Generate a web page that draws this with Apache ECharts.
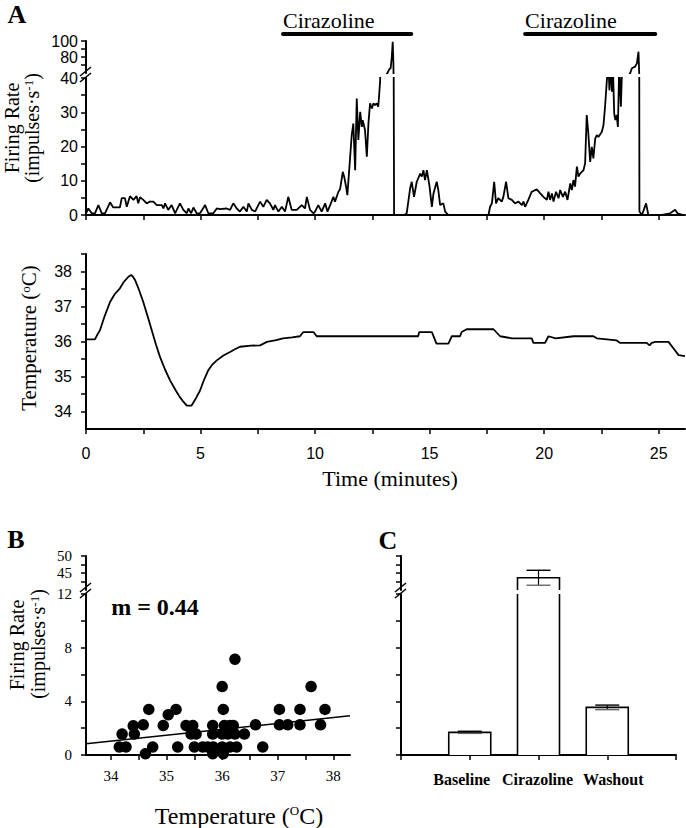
<!DOCTYPE html>
<html><head><meta charset="utf-8">
<script src="https://cdn.jsdelivr.net/npm/echarts@6/dist/echarts.min.js"></script>
<style>html,body{margin:0;padding:0;background:#fff;}#c{width:686px;height:828px;}</style>
</head><body><div id="c"></div>
<script>
// ---------- Panel A: firing rate trace (time in minutes, impulses/s) ----------
const fireTime = [
0, 0.10, 0.25, 0.39, 0.54, 0.69, 0.83, 1.05, 1.19, 1.48,
1.56, 1.70, 1.78, 1.92, 2.07, 2.21, 2.28, 2.36, 2.50, 2.65,
2.79, 2.94, 3.09, 3.31, 3.38, 3.45, 3.59, 3.74, 3.89, 4.10,
4.25, 4.40, 4.47, 4.59, 4.69, 4.83, 4.98, 5.20, 5.34, 5.56,
5.71, 5.85, 6.14, 6.29, 6.43, 6.58, 6.72, 6.87, 7.02, 7.09,
7.24, 7.38, 7.60, 7.74, 7.89, 8.03, 8.18, 8.25, 8.40, 8.55,
8.69, 8.83, 8.98, 9.20, 9.42, 9.56, 9.64, 9.78, 9.93, 10.00,
10.14, 10.29, 10.44, 10.54, 10.66, 10.80, 10.87, 11.02, 11.09, 11.21,
11.27, 11.35, 11.41, 11.50, 11.60, 11.67, 11.75, 11.82, 11.89, 11.97,
12.04, 12.08, 12.18, 12.26, 12.33, 12.40, 12.48, 12.55, 12.62, 12.69,
12.76, 12.84, 12.87, 13.16, 13.24, 13.30, 13.35, 13.39, 13.42, 13.45,
13.90, 14.00, 14.15, 14.22, 14.32, 14.44, 14.59, 14.66, 14.73, 14.80,
14.88, 14.99, 15.10, 15.17, 15.31, 15.38, 15.46, 15.60, 15.68, 15.82,
17.57, 17.64, 17.72, 17.82, 17.90, 18.00, 18.15, 18.22, 18.34, 18.44,
18.59, 18.73, 18.88, 19.03, 19.10, 19.17, 19.31, 19.46, 19.68, 19.83,
19.97, 20.12, 20.19, 20.26, 20.34, 20.41, 20.52, 20.63, 20.70, 20.82,
20.92, 21.02, 21.14, 21.21, 21.28, 21.35, 21.43, 21.50, 21.57, 21.72,
21.79, 21.86, 21.93, 22.01, 22.08, 22.15, 22.23, 22.30, 22.37, 22.52,
22.59, 22.66, 22.74, 22.81, 22.85, 22.91, 22.96, 23.00, 23.06, 23.11,
23.17, 23.22, 23.28, 23.35, 23.41, 23.46, 23.60, 23.76, 23.83, 23.97,
24.05, 24.12, 24.15, 24.16, 24.27, 24.45, 24.55, 25.14, 25.50, 25.72,
25.82, 26.08];
const fireRate = [
0.5, 1.9, 0.5, 0.5, 2.9, 0.5, 0.5, 3.7, 2.2, 2.2,
4.9, 4.9, 2.4, 5.5, 4.4, 5.5, 3.4, 5.2, 4.4, 3.4,
3.9, 3.9, 2.9, 2.9, 1.9, 3.4, 1.5, 2.9, 0.5, 3.4,
1.5, 0.5, 1.9, 0.5, 2.2, 0.5, 0.5, 2.9, 0.5, 0.5,
1.9, 1.7, 1.9, 1.5, 3.4, 1.9, 1.0, 2.4, 1.0, 3.4,
1.5, 1.0, 3.9, 2.4, 4.4, 3.4, 1.5, 2.9, 1.0, 2.4,
1.0, 5.3, 1.5, 1.5, 2.9, 1.9, 5.3, 1.5, 0.5, 1.0,
2.9, 1.0, 3.4, 1.0, 2.9, 5.3, 3.9, 6.8, 7.5, 12.6,
11.2, 8.4, 5.8, 14.0, 23.3, 26.7, 13.1, 34.0, 21.9, 30.1,
25.7, 27.7, 24.8, 17.0, 26.7, 32.6, 31.1, 32.6, 32.1, 32.6,
31.6, 39.0, 48, 60, 64.6, 66, 80, 99, 72, 0,
0, 0.5, 7.8, 9.7, 5.3, 9.7, 12.1, 11.2, 13.1, 10.2,
13.1, 8.7, 2.4, 6.3, 9.7, 7.3, 2.9, 3.4, 1.0, 0,
0, 2.4, 3.4, 9.7, 3.4, 4.9, 3.9, 5.3, 9.7, 4.9,
4.4, 3.4, 3.9, 2.9, 3.9, 2.4, 4.4, 6.8, 7.5, 6.3,
5.3, 4.4, 6.8, 4.4, 6.3, 3.9, 6.8, 4.9, 7.3, 5.3,
6.8, 4.4, 9.2, 7.3, 10.2, 8.3, 14.1, 11.2, 12.1, 13.1,
15.1, 29.2, 23.8, 15.5, 19.9, 16.5, 22.3, 23.3, 22.8, 24.3,
26.2, 31.6, 39.4, 44, 36.4, 44, 36, 44, 29.6, 27.7,
29.2, 25.7, 44, 31.6, 44, 48, 52, 60, 66, 68,
72, 86.6, 60, 1, 0, 3.4, 0, 0, 0.5, 1.5,
0.5, 0];

// drug application periods (minutes)
const drugName = 'Cirazoline';
const drugPeriods = [[8.6, 14.2], [19.17, 24.85]];

// ---------- Panel A: temperature trace ----------
const tempTime = [0, 0.39, 0.5, 0.61, 0.8, 1.05, 1.25, 1.48, 1.65, 1.85,
1.97, 2.05, 2.14, 2.3, 2.5, 2.7, 2.87, 3.05, 3.23, 3.45,
3.67, 3.9, 4.1, 4.25, 4.4, 4.61, 4.8, 4.98, 5.15, 5.34,
5.5, 5.71, 6.0, 6.29, 6.5, 6.72, 7.2, 7.6, 7.9, 8.3,
8.6, 9.0, 9.34, 9.49, 9.93, 10.07, 14.5, 14.55, 15.1, 15.3,
15.82, 15.97, 16.33, 16.4, 16.62, 17.79, 18.08, 18.59, 19.46, 19.53,
20.04, 20.19, 20.5, 21.28, 22.15, 22.3, 23.17, 23.32, 24.48, 24.6,
24.7, 24.85, 25.43, 25.65, 25.87, 26.15];
const tempValue = [36.06, 36.06, 36.2, 36.32, 36.7, 37.13, 37.35, 37.52, 37.7, 37.85,
37.9, 37.85, 37.76, 37.5, 37.13, 36.7, 36.32, 35.92, 35.56, 35.2,
34.89, 34.62, 34.41, 34.28, 34.17, 34.17, 34.38, 34.6, 34.9, 35.18,
35.33, 35.46, 35.6, 35.7, 35.78, 35.85, 35.88, 35.89, 35.99, 36.04,
36.09, 36.12, 36.15, 36.27, 36.27, 36.15, 36.15, 36.27, 36.27, 35.94,
35.94, 36.15, 36.15, 36.27, 36.35, 36.35, 36.15, 36.09, 36.09, 35.96,
35.96, 36.15, 36.09, 36.15, 36.15, 36.09, 36.03, 35.96, 35.96, 35.89,
35.96, 35.99, 35.99, 35.8, 35.61, 35.58];

// ---------- Panel B: firing rate vs temperature ----------
const scatterTemp = [34.2, 34.15, 34.27, 34.4, 34.42, 34.58, 34.62, 34.68, 34.75, 34.94,
35.03, 35.17, 35.2, 35.35, 35.47, 35.44, 35.53, 35.5, 35.65, 35.74,
35.83, 35.83, 35.84, 35.83, 36.0, 36.02, 36.04, 36.0, 36.0, 36.02,
36.14, 36.1, 36.14, 36.23, 36.23, 36.26, 36.4, 36.6, 36.73, 37.03,
37.03, 37.18, 37.4, 37.4, 37.6, 37.77, 37.85, 36.2];
const scatterRate = [1.56, 0.6, 0.6, 2.18, 1.56, 2.25, 0.1, 3.4, 0.6, 2.2,
3.0, 3.4, 0.6, 2.2, 2.2, 1.56, 1.56, 0.6, 0.6, 0.6,
2.2, 1.56, 0.6, 0.1, 5.1, 3.4, 2.2, 1.56, 0.6, 0.1,
2.2, 1.56, 0.6, 7.14, 1.56, 0.6, 1.56, 2.25, 0.6, 3.4,
2.25, 2.25, 3.4, 2.25, 5.1, 2.25, 3.4, 2.2];
const fitTemp = [33.55, 38.3];
const fitRate = [0.84, 2.92];
const slopeText = 'm = 0.44';

// ---------- Panel C: mean firing rate ----------
const conditions = ['Baseline', 'Cirazoline', 'Washout'];
const condMean = [1.69, 43.6, 3.55];
const condSem = [0.08, 2.2, 0.17];

// ---------- axis ticks ----------
const timeTicks = [0, 2.5, 5, 7.5, 10, 12.5, 15, 17.5, 20, 22.5, 25];
const timeLabels = [0, 5, 10, 15, 20, 25];
const frUpperTicks = [70, 80, 90, 100], frUpperLabels = [80, 100];
const frLowerTicks = [0, 5, 10, 15, 20, 25, 30, 35, 40], frLowerLabels = [0, 10, 20, 30, 40];
const tempTicks = [34, 34.5, 35, 35.5, 36, 36.5, 37, 37.5, 38, 38.5], tempLabels = [34, 35, 36, 37, 38];
const bTempTicks = [34, 34.5, 35, 35.5, 36, 36.5, 37, 37.5, 38], bTempLabels = [34, 35, 36, 37, 38];
const bcUpperTicks = [42.5, 45, 47.5, 50], bUpperLabels = [45, 50];
const bcLowerTicks = [0, 2, 4, 6, 8, 10, 12], bLowerLabels = [0, 4, 8, 12];

const SERIF = '"Liberation Serif", "Times New Roman", serif';
const SANS = '"Liberation Sans", Arial, sans-serif';
const condLabelShift = [-8, -1, 6]; // horizontal nudge of the category labels (px)

const chart = echarts.init(document.getElementById('c'), null, {renderer: 'svg'});

const zip = (a, b) => a.slice(0, Math.min(a.length, b.length)).map((v, i) => [v, b[i]]);
const fireData = zip(fireTime, fireRate);
const tempData = zip(tempTime, tempValue);
const scatterData = zip(scatterTemp, scatterRate);
const fitData = zip(fitTemp, fitRate);
const barData = conditions.map((c, i) => [i + 1, condMean[i], condSem[i]]);
const condLabelData = conditions.map((c, i) => [i + 1, 0]);

const axLine = {show: true, onZero: false, lineStyle: {color: '#000', width: 2}};
function tick(vals) { return {show: true, inside: false, length: 5, customValues: vals, lineStyle: {color: '#000', width: 1.5}}; }
function lab(vals, font, size, margin, extra) {
  return Object.assign({show: true, customValues: vals, color: '#000', fontFamily: font, fontSize: size, margin: margin, hideOverlap: false}, extra || {});
}
const noLab = {show: false};

function valAxis(gi, min, max, o) {
  return Object.assign({type: 'value', gridIndex: gi, min: min, max: max, splitLine: {show: false}, axisLine: axLine}, o);
}

const tMin = 0, tMax = 26.15;
const bMin = 33.55, bMax = 38.3;

function renderDrug(params, api) {
  const a = api.coord([api.value(0), 100]);
  const b = api.coord([api.value(1), 100]);
  return {type: 'group', children: [
    {type: 'line', shape: {x1: a[0], y1: a[1] - 7, x2: b[0], y2: b[1] - 7}, style: {stroke: '#000', lineWidth: 4, lineCap: 'round'}},
    {type: 'text', x: a[0], y: a[1] - 21, style: {text: drugName, fill: '#000', font: '22px ' + SERIF, align: 'left', verticalAlign: 'middle', textAlign: 'left', textVerticalAlign: 'middle'}}
  ]};
}

function renderBars(params, api) {
  const x = api.value(0), m = api.value(1), s = api.value(2);
  const base = api.coord([x, 0]);
  const top = api.coord([x, m]);
  const hi = api.coord([x, m + s]);
  const lo = api.coord([x, m - s]);
  const hw = 21, cw = 12;
  return {type: 'group', children: [
    {type: 'rect', shape: {x: base[0] - hw, y: top[1], width: 2 * hw, height: base[1] - top[1]}, style: {fill: '#fff'}},
    {type: 'polyline', shape: {points: [[base[0] - hw, base[1]], [base[0] - hw, top[1]], [base[0] + hw, top[1]], [base[0] + hw, base[1]]]}, style: {stroke: '#000', lineWidth: 1.6, fill: null}},
    {type: 'line', shape: {x1: top[0], y1: hi[1], x2: top[0], y2: lo[1]}, style: {stroke: '#000', lineWidth: 1.2}},
    {type: 'line', shape: {x1: top[0] - cw, y1: hi[1], x2: top[0] + cw, y2: hi[1]}, style: {stroke: '#000', lineWidth: 1.4}},
    {type: 'line', shape: {x1: top[0] - cw, y1: lo[1], x2: top[0] + cw, y2: lo[1]}, style: {stroke: '#666', lineWidth: 1.4}}
  ]};
}

function renderCondLabel(params, api) {
  const p = api.coord([api.value(0), 0]);
  const i = params.dataIndex;
  return {type: 'text', x: p[0] + (condLabelShift[i] || 0), y: p[1] + 24,
    style: {text: conditions[i], fill: '#000', font: 'bold 16px ' + SERIF, align: 'center', verticalAlign: 'middle', textAlign: 'center', textVerticalAlign: 'middle'}};
}

function breakMark(x, y) {
  return {type: 'group', x: x, y: y, z: 100, children: [
    {type: 'polygon', shape: {points: [[-6, 3], [5, -6], [5, 0], [-6, 9]]}, style: {fill: '#fff'}},
    {type: 'line', shape: {x1: -6, y1: 3, x2: 5, y2: -6}, style: {stroke: '#000', lineWidth: 1.5}},
    {type: 'line', shape: {x1: -6, y1: 9, x2: 5, y2: 0}, style: {stroke: '#000', lineWidth: 1.5}}
  ]};
}

function vText(x, y, text, size, rich) {
  return {type: 'text', x: x, y: y, rotation: Math.PI / 2, z: 100,
    style: {text: text, fill: '#000', font: size + 'px ' + SERIF, fontFamily: SERIF, fontSize: size, align: 'center', verticalAlign: 'middle', textAlign: 'center', textVerticalAlign: 'middle', rich: rich || {}}};
}
function hText(x, y, text, size, weight, rich) {
  return {type: 'text', x: x, y: y, z: 100,
    style: {text: text, fill: '#000', font: (weight || 'normal') + ' ' + size + 'px ' + SERIF, fontFamily: SERIF, fontSize: size, fontWeight: weight || 'normal', align: 'center', verticalAlign: 'middle', textAlign: 'center', textVerticalAlign: 'middle', rich: rich || {}}};
}
const supRich = {sup: {fontSize: 13, fontFamily: SERIF, verticalAlign: 'top', fill: '#000', color: '#000'}};

const option = {
  animation: false,
  backgroundColor: '#fff',
  grid: [
    {left: 86, top: 41, width: 599, height: 32},
    {left: 86, top: 78, width: 599, height: 137},
    {left: 86, top: 254, width: 599, height: 175},
    {left: 86, top: 556, width: 264, height: 34},
    {left: 86, top: 594, width: 264, height: 161},
    {left: 401, top: 556, width: 275, height: 34},
    {left: 401, top: 594, width: 275, height: 161}
  ],
  xAxis: [
    valAxis(0, tMin, tMax, {show: false}),
    valAxis(1, tMin, tMax, {axisTick: tick(timeTicks), axisLabel: noLab}),
    valAxis(2, tMin, tMax, {axisTick: tick(timeTicks), axisLabel: lab(timeLabels, SANS, 16, 16)}),
    valAxis(3, bMin, bMax, {show: false}),
    valAxis(4, bMin, bMax, {axisTick: tick(bTempTicks), axisLabel: lab(bTempLabels, SERIF, 15, 13)}),
    valAxis(5, 0, 4, {show: false}),
    valAxis(6, 0, 4, {axisTick: tick([0, 1, 2, 3, 4]), axisLabel: noLab})
  ],
  yAxis: [
    valAxis(0, 60, 100, {axisTick: tick(frUpperTicks), axisLabel: lab(frUpperLabels, SANS, 16, 8)}),
    valAxis(1, 0, 40, {axisTick: tick(frLowerTicks), axisLabel: lab(frLowerLabels, SANS, 16, 8)}),
    valAxis(2, 33.5, 38.5, {axisTick: tick(tempTicks), axisLabel: lab(tempLabels, SANS, 16, 14)}),
    valAxis(3, 40, 50, {axisTick: tick(bcUpperTicks), axisLabel: lab(bUpperLabels, SERIF, 15, 14)}),
    valAxis(4, 0, 12, {axisTick: tick(bcLowerTicks), axisLabel: lab(bLowerLabels, SERIF, 15, 14)}),
    valAxis(5, 40, 50, {axisTick: tick(bcUpperTicks), axisLabel: noLab}),
    valAxis(6, 0, 12, {axisTick: tick(bcLowerTicks), axisLabel: noLab})
  ],
  series: [
    {type: 'line', xAxisIndex: 0, yAxisIndex: 0, data: fireData, showSymbol: false, symbol: 'none', clip: true, lineStyle: {color: '#000', width: 1.8}},
    {type: 'line', xAxisIndex: 1, yAxisIndex: 1, data: fireData, showSymbol: false, symbol: 'none', clip: true, lineStyle: {color: '#000', width: 1.8}},
    {type: 'custom', xAxisIndex: 0, yAxisIndex: 0, data: drugPeriods, renderItem: renderDrug, clip: false},
    {type: 'line', xAxisIndex: 2, yAxisIndex: 2, data: tempData, showSymbol: false, symbol: 'none', lineStyle: {color: '#000', width: 1.8}},
    {type: 'scatter', xAxisIndex: 4, yAxisIndex: 4, data: scatterData, symbol: 'circle', symbolSize: 11.5, itemStyle: {color: '#000', opacity: 1}, clip: false},
    {type: 'line', xAxisIndex: 4, yAxisIndex: 4, data: fitData, showSymbol: false, symbol: 'none', lineStyle: {color: '#000', width: 1.6}},
    {type: 'custom', xAxisIndex: 5, yAxisIndex: 5, data: barData, renderItem: renderBars, clip: true},
    {type: 'custom', xAxisIndex: 6, yAxisIndex: 6, data: barData, renderItem: renderBars, clip: true},
    {type: 'custom', xAxisIndex: 6, yAxisIndex: 6, data: condLabelData, renderItem: renderCondLabel, clip: false}
  ],
  graphic: [
    hText(17, 14, 'A', 26, 'bold'),
    hText(16, 539, 'B', 26, 'bold'),
    hText(388, 540, 'C', 26, 'bold'),
    vText(12, 128, 'Firing Rate', 20),
    vText(32, 128, '(impulses·s{sup|-1})', 20, supRich),
    vText(29, 338, 'Temperature ({sup|o}C)', 21, supRich),
    hText(390, 478, 'Time (minutes)', 22),
    vText(17, 645, 'Firing Rate', 20),
    vText(38, 644, '(impulses·s{sup|-1})', 20, supRich),
    hText(155, 607, slopeText, 24, 'bold'),
    hText(239, 816, 'Temperature ({sup|O}C)', 24, 'normal', supRich),
    breakMark(86, 73),
    breakMark(86, 589),
    breakMark(401, 589)
  ]
};
chart.setOption(option);
</script></body></html>
